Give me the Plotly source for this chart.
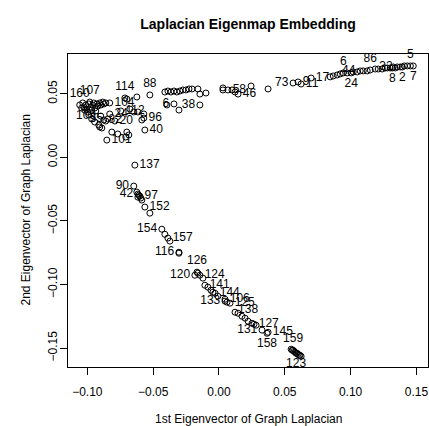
import plotly.graph_objects as go

# Embedding coordinates (1st and 2nd eigenvectors of graph Laplacian)
x_vals = [
    -0.1058, -0.1035, -0.1027, -0.1012, -0.1005, -0.0989, -0.0982, -0.0974, -0.0959, -0.0951,
    -0.0944, -0.0928, -0.0921, -0.0906, -0.0898, -0.0883, -0.0875, -0.0860, -0.1020, -0.1043,
    -0.0830, -0.0997, -0.0967, -0.0936, -0.0898,
    -0.0989, -0.0967, -0.0944, -0.0913, -0.0890, -0.0906, -0.0845, -0.0860, -0.0830, -0.0746,
    -0.0814, -0.0769, -0.0875, -0.0791, -0.0700, -0.0685, -0.0708, -0.0852,
    -0.0715, -0.0700, -0.0624, -0.0525, -0.0677, -0.0647, -0.0616, -0.0571, -0.0586, -0.0571,
    -0.0563,
    -0.0411, -0.0388, -0.0365, -0.0342, -0.0320, -0.0297, -0.0274, -0.0251, -0.0228, -0.0205,
    -0.0160, -0.0145, -0.0099, -0.0396, -0.0342, -0.0304, -0.0145,
    0.0030, 0.0030, 0.0068, 0.0099, 0.0122, 0.0145, 0.0244, 0.0373, 0.0563, 0.0601,
    0.0624, 0.0700,
    0.0845, 0.0868, 0.0898, 0.0921, 0.0944, 0.0974, 0.1005, 0.1020, 0.1050, 0.1073,
    0.1096, 0.1126, 0.1149, 0.1187, 0.1210, 0.1240, 0.1263, 0.1279, 0.1301, 0.1324,
    0.1355, 0.1317, 0.1393, 0.1377, 0.1408, 0.1431, 0.1454, 0.1476, 0.1339,
    -0.0639, -0.0647, -0.0624, -0.0616, -0.0609, -0.0601, -0.0594, -0.0616, -0.0586, -0.0563,
    -0.0525, -0.0434, -0.0411, -0.0388, -0.0373, -0.0304, -0.0304,
    -0.0167, -0.0183, -0.0145, -0.0160, -0.0122, -0.0107, -0.0084, -0.0061, -0.0046, -0.0030,
    -0.0008, 0.0046, 0.0061, 0.0046, 0.0084,
    0.0122, 0.0145, 0.0175, 0.0198, 0.0221, 0.0251, 0.0266, 0.0282, 0.0327, 0.0365, 0.0373,
    0.0548, 0.0556, 0.0563, 0.0571, 0.0578, 0.0586, 0.0594, 0.0601, 0.0609, 0.0616, 0.0624,
]
y_vals = [
    0.0412, 0.0428, 0.0396, 0.0412, 0.0380, 0.0420, 0.0435, 0.0396, 0.0412, 0.0428,
    0.0388, 0.0420, 0.0404, 0.0428, 0.0412, 0.0435, 0.0420, 0.0428, 0.0372, 0.0388,
    0.0428, 0.0357, 0.0372, 0.0365, 0.0325,
    0.0333, 0.0302, 0.0278, 0.0254, 0.0231, 0.0239, 0.0302, 0.0286, 0.0341, 0.0365,
    0.0199, 0.0184, 0.0294, 0.0286, 0.0199, 0.0176, 0.0160, 0.0136,
    0.0467, 0.0459, 0.0475, 0.0491, 0.0380, 0.0357, 0.0357, 0.0341, 0.0294, 0.0309,
    0.0215,
    0.0514, 0.0522, 0.0514, 0.0522, 0.0514, 0.0522, 0.0530, 0.0530, 0.0538, 0.0538,
    0.0538, 0.0498, 0.0506, 0.0412, 0.0420, 0.0372, 0.0412,
    0.0546, 0.0530, 0.0530, 0.0530, 0.0514, 0.0498, 0.0561, 0.0538, 0.0585, 0.0593,
    0.0577, 0.0624,
    0.0633, 0.0640, 0.0648, 0.0656, 0.0664, 0.0664, 0.0664, 0.0672, 0.0672, 0.0680,
    0.0680, 0.0680, 0.0687, 0.0695, 0.0695, 0.0695, 0.0703, 0.0703, 0.0703, 0.0711,
    0.0711, 0.0703, 0.0711, 0.0711, 0.0719, 0.0719, 0.0719, 0.0719, 0.0703,
    -0.0061, -0.0226, -0.0273, -0.0289, -0.0297, -0.0305, -0.0320, -0.0313, -0.0336, -0.0391,
    -0.0439, -0.0565, -0.0605, -0.0635, -0.0659, -0.0746, -0.0754,
    -0.0903, -0.0927, -0.0927, -0.0911, -0.0950, -0.1006, -0.1021, -0.1045, -0.1061, -0.1069,
    -0.1092, -0.1131, -0.1139, -0.1116, -0.1147,
    -0.1218, -0.1226, -0.1250, -0.1265, -0.1289, -0.1305, -0.1313, -0.1320, -0.1359, -0.1384, -0.1376,
    -0.1509, -0.1517, -0.1517, -0.1525, -0.1533, -0.1541, -0.1541, -0.1549, -0.1557, -0.1557, -0.1565,
]
point_labels = [
    "160", "", "", "", "", "", "107", "", "", "",
    "", "", "", "", "", "", "", "", "", "",
    "104", "", "", "", "109",
    "", "", "", "", "", "", "55", "", "24", "112",
    "", "", "82", "20", "", "", "", "101",
    "114", "", "", "88", "", "", "", "", "", "96",
    "40",
    "", "", "", "", "", "", "", "", "", "",
    "", "", "", "", "6", "", "38",
    "", "", "58", "", "", "46", "", "", "73", "9",
    "11", "17",
    "", "", "", "", "6", "", "24", "", "", "44",
    "", "", "86", "", "", "", "", "", "", "",
    "32", "8", "2", "", "", "", "5", "7", "",
    "137", "90", "", "42", "", "97", "", "", "", "152",
    "", "154", "", "157", "", "116", "",
    "126", "120", "124", "", "", "141", "", "", "", "144",
    "", "133", "", "106", "125",
    "", "", "", "", "138", "", "127", "", "131", "158", "145",
    "", "", "159", "", "", "123", "", "", "", "", "",
]
label_side = [
    "t", "", "", "", "", "", "t", "", "", "",
    "", "", "", "", "", "", "", "", "", "",
    "r", "", "", "", "l",
    "", "", "", "", "", "", "l", "", "r", "r",
    "", "", "r", "r", "", "", "", "r",
    "t", "", "", "t", "", "", "", "", "", "r",
    "r",
    "", "", "", "", "", "", "", "", "", "",
    "", "", "", "", "l", "", "l",
    "", "", "r", "", "", "r", "", "", "l", "r",
    "r", "r",
    "", "", "", "", "t", "", "b", "", "", "l",
    "", "", "t", "", "", "", "", "", "", "",
    "l", "b", "b", "", "", "", "t", "b", "",
    "r", "l", "", "l", "", "r", "", "", "", "r",
    "", "l", "", "r", "", "l", "",
    "t", "l", "r", "", "", "r", "", "", "", "r",
    "", "l", "", "r", "r",
    "", "", "", "", "t", "", "r", "", "l", "b", "r",
    "", "", "t", "", "", "b", "", "", "", "", "",
]

x_ticks = [-0.10, -0.05, 0.00, 0.05, 0.10, 0.15]
x_tick_text = ["\u22120.10", "\u22120.05", "0.00", "0.05", "0.10", "0.15"]
y_ticks = [-0.15, -0.10, -0.05, 0.00, 0.05]
y_tick_text = ["\u22120.15", "\u22120.10", "\u22120.05", "0.00", "0.05"]

side_map = {"t": "top center", "b": "bottom center", "l": "middle left",
            "r": "middle right", "": "middle right"}
positions = [side_map[s] for s in label_side]

FONT = "Liberation Sans, Arial, Helvetica, sans-serif"

fig = go.Figure()
fig.add_trace(go.Scatter(
    x=x_vals, y=y_vals, mode="markers+text",
    text=point_labels, textposition=positions,
    textfont=dict(family=FONT, size=12, color="black"),
    marker=dict(symbol="circle-open", size=6, color="black", line=dict(width=1, color="black")),
    cliponaxis=False, showlegend=False, hoverinfo="skip",
))

axis_common = dict(
    showgrid=False, zeroline=False, showline=True, mirror=True,
    linecolor="black", linewidth=1, ticks="outside", ticklen=7,
    tickcolor="black", tickwidth=1,
    tickfont=dict(family=FONT, size=12, color="black"),
)

fig.update_layout(
    width=429, height=426,
    margin=dict(l=68, r=1, t=54, b=59),
    paper_bgcolor="white", plot_bgcolor="white",
    title=dict(text="<b>Laplacian Eigenmap Embedding</b>", x=0.5, xref="paper",
               y=1 - 24 / 426, yref="container", yanchor="middle", xanchor="center",
               font=dict(family=FONT, size=14, color="black")),
    xaxis=dict(range=[-0.1147, 0.1588], tickvals=x_ticks, ticktext=x_tick_text,
               ticklabelstandoff=7, **axis_common),
    yaxis=dict(range=[-0.1649, 0.0813], tickvals=y_ticks, ticktext=y_tick_text,
               tickangle=-90, ticklabelstandoff=-2, **axis_common),
    annotations=[
        dict(text="1st Eigenvector of Graph Laplacian", xref="paper", yref="paper",
             x=0.5, y=0, xanchor="center", yanchor="middle", yshift=-52, showarrow=False,
             font=dict(family=FONT, size=12, color="black")),
        dict(text="2nd Eigenvector of Graph Laplacian", xref="paper", yref="paper",
             x=0, y=0.5, xanchor="center", yanchor="middle", xshift=-43, textangle=-90,
             showarrow=False, font=dict(family=FONT, size=12, color="black")),
    ],
)

fig.write_html("out.html", config={"displayModeBar": False},
               post_script="document.body.style.margin='0';")
